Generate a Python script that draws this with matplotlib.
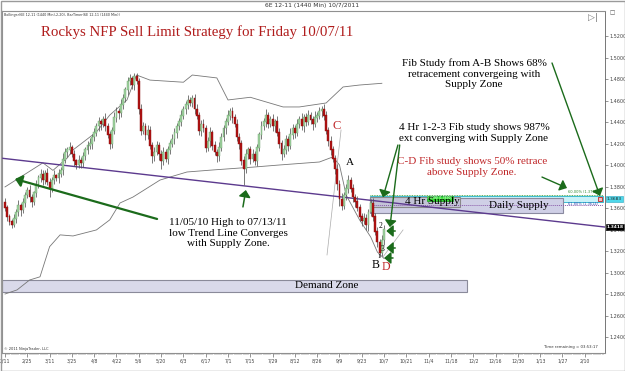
import matplotlib
matplotlib.use("Agg")
import matplotlib.pyplot as plt
from matplotlib.patches import Rectangle
import numpy as np

# ---------------- data ----------------
first_open = 1.365
closes = [
 1.360,1.352,1.347,1.344,1.350,1.356,1.362,1.358,1.365,1.372,
 1.376,1.370,1.366,1.374,1.382,1.388,1.391,1.386,1.392,1.384,
 1.378,1.386,1.390,1.388,1.392,1.395,1.405,1.412,1.414,1.416,
 1.410,1.404,1.400,1.404,1.402,1.408,1.414,1.418,1.420,1.426,
 1.430,1.436,1.440,1.438,1.442,1.436,1.428,1.420,1.432,1.444,
 1.450,1.448,1.456,1.462,1.470,1.478,1.480,1.474,1.482,1.478,
 1.452,1.432,1.436,1.428,1.432,1.418,1.408,1.412,1.418,1.410,
 1.404,1.412,1.406,1.414,1.420,1.424,1.430,1.436,1.440,1.446,
 1.452,1.456,1.460,1.458,1.462,1.452,1.446,1.432,1.438,1.434,
 1.416,1.422,1.430,1.418,1.412,1.408,1.416,1.426,1.434,1.440,
 1.446,1.450,1.444,1.438,1.426,1.420,1.404,1.396,1.410,1.414,
 1.406,1.410,1.404,1.416,1.428,1.436,1.440,1.446,1.438,1.442,
 1.436,1.440,1.430,1.420,1.410,1.414,1.424,1.418,1.428,1.434,
 1.430,1.438,1.442,1.436,1.444,1.440,1.446,1.442,1.438,1.444,
 1.446,1.450,1.452,1.446,1.432,1.422,1.414,1.406,1.396,1.382,
 1.368,1.362,1.372,1.378,1.386,1.378,1.370,1.366,1.360,1.352,
 1.348,1.350,1.344,1.356,1.364,1.352,1.338,1.328,1.318,1.330,
 1.340]
wick_up = [
 4,3,2,3,4,3,5,3,4,3, 4,5,3,2,4,3,5,4,3,5, 4,3,5,2,4,3,6,4,3,5,
 3,4,2,5,3,4,3,4,5,3, 4,3,5,3,4,6,3,4,3,5, 4,3,5,4,3,4,5,3,4,4,
 3,5,4,3,5,4,3,5,4,3, 4,5,3,4,3,5,4,3,4,5, 3,4,5,3,3,4,5,3,4,5,
 3,4,5,3,4,3,5,4,3,4, 5,3,4,3,5,4,3,4,5,3, 4,5,3,4,3,5,4,6,3,4,
 5,3,6,4,3,5,4,3,6,4, 3,5,4,6,3,4,5,3,4,6, 3,4,3,5,4,3,5,4,3,5,
 4,6,3,4,5,3,4,3,5,4, 3,5,4,3,4,5,3,4,3,5, 4]
wick_dn = [
 3,4,3,3,2,4,3,5,3,4, 3,4,5,3,4,3,4,5,4,3, 8,3,4,3,5,3,4,3,5,4,
 3,5,4,3,5,4,3,4,3,5, 4,3,4,5,3,4,3,5,4,3, 4,5,3,4,3,5,4,3,4,3,
 5,4,3,5,4,3,6,4,3,5, 8,4,3,5,4,3,4,5,3,4, 3,5,4,3,4,5,3,4,5,3,
 4,3,5,4,3,5,4,3,4,5, 3,4,5,3,4,5,4,15,3,4, 5,3,4,5,3,4,3,5,4,3,
 4,5,3,4,5,3,4,5,3,4, 5,3,4,3,5,4,3,4,5,3, 4,3,5,4,3,4,5,3,4,5,
 6,4,3,5,4,3,4,5,3,4, 5,3,4,5,3,4,3,4,4,3, 4]

# Bollinger bands (bar index, price)
upper_x = [0, 17, 21.5, 28, 30.5, 41, 47, 54.7, 59, 65, 80, 84, 95, 100, 110, 124.7, 132, 144, 151.6, 159, 169]
upper_y = [1.3796, 1.402, 1.395, 1.4067, 1.414, 1.4307, 1.4465, 1.4605, 1.4837, 1.479, 1.477, 1.4837,
           1.481, 1.4605, 1.463, 1.454, 1.454, 1.4577, 1.4726, 1.4744, 1.476]
lower_x = [0, 5.4, 11, 15.7, 20, 24.7, 30.5, 41, 47, 51.6, 57.4, 69.5, 81.6, 93.3, 105.4, 111, 123, 141,
           147, 150, 153, 159, 164, 167, 170]
lower_y = [1.280, 1.2838, 1.293, 1.296, 1.324, 1.335, 1.334, 1.3396, 1.349, 1.3647, 1.3702, 1.386,
           1.3935, 1.3954, 1.3972, 1.398, 1.400, 1.4028, 1.4075, 1.400, 1.372, 1.349, 1.333, 1.319, 1.313]

# trend line anchors (bar, price)
trend_x = [-2.24, 269.0]
trend_y = [1.4065, 1.3423]

# zones (price levels)
demand_zone = (1.2819, 1.2930)
daily_supply = (1.3554, 1.3693)
hr4_supply = (1.3610, 1.3703)
cyan_zone = (1.3656, 1.3712)
fib60 = 1.3720
fib618 = 1.3628

y_ticks = [1.24, 1.26, 1.28, 1.30, 1.32, 1.34, 1.36, 1.38, 1.40, 1.42, 1.44, 1.46, 1.48, 1.50, 1.52]
date_labels = ["2/11", "2/25", "3/11", "3/25", "4/8", "4/22", "5/6", "5/20", "6/3", "6/17", "7/1",
               "7/15", "7/29", "8/12", "8/26", "9/9", "9/23", "10/7", "10/21", "11/4", "11/18",
               "12/2", "12/16", "12/30", "1/13", "1/27", "2/10"]

# ---------------- figure ----------------
W, H = 625, 371
fig = plt.figure(figsize=(W / 100, H / 100), dpi=100)
fig.patch.set_facecolor("white")
ax = fig.add_axes([2 / W, 1 - 353 / H, 603 / W, 342 / H])
ax.set_xlim(-1.345, 269.06)
ax.set_ylim(1.22512, 1.54326)

serif = ["Liberation Serif", "DejaVu Serif"]

n = len(closes)
idx = np.arange(n)
c = np.array(closes)
o = np.concatenate([[first_open], c[:-1]])
top = np.maximum(o, c)
bot = np.minimum(o, c)
hi = top + np.array(wick_up) / 1000.0
lo = bot - np.array(wick_dn) / 1000.0
up = c >= o

# zones
ax.add_patch(Rectangle((-1.345, demand_zone[0]), 208.5, demand_zone[1] - demand_zone[0],
                       facecolor="#d9d9ea", edgecolor="#8a8a9a", lw=0.8, zorder=1))
ax.add_patch(Rectangle((163.7, cyan_zone[0]), 104.3, cyan_zone[1] - cyan_zone[0],
                       facecolor="#c9f2f8", edgecolor="#3cbcd0", lw=0.7, zorder=1))
ax.add_patch(Rectangle((163.7, daily_supply[0]), 86.5, daily_supply[1] - daily_supply[0],
                       facecolor="#cfcfe6", edgecolor="#8a8aa0", lw=0.8, zorder=1.2))
ax.add_patch(Rectangle((163.7, hr4_supply[0]), 40.3, hr4_supply[1] - hr4_supply[0],
                       facecolor="#c4c4d8", edgecolor="#8a8a8a", lw=0.8, zorder=1.3))
ax.add_patch(Rectangle((189.2, 1.3668), 11.7, 0.0044, facecolor="#33dd33", edgecolor="#1a9a1a",
                       lw=0.5, zorder=1.4))
ax.text(195, 1.3690, "1.3690 (1.3690)", fontsize=2.2, color="white", ha="center", va="center", zorder=1.5)

ax.plot([163.7, 268], [fib60, fib60], color="#2e9a2e", lw=0.6, ls=(0, (1, 1)), zorder=1.6)
ax.plot([163.7, 268], [fib618, fib618], color="#8a5aaa", lw=0.7, ls=(0, (1, 1)), zorder=1.6)
ax.text(266, fib60 + 0.0025, "60.00% (1.3717)", fontsize=2.6, color="#2e8a2e", ha="right", va="center")
ax.text(266, fib618 + 0.0010, "61.80% (1.3614)", fontsize=2.6, color="#3a4ab0", ha="right", va="center")
ax.plot([267], [1.3683], marker="s", ms=3, mfc="#f0c0c0", mec="#c02020", mew=0.6, zorder=5)

# bollinger bands
ax.plot(upper_x, upper_y, color="#777777", lw=0.6, zorder=2)
ax.plot(lower_x, lower_y, color="#777777", lw=0.6, zorder=2)

# thin fib lines
ax.plot([150.7, 144.4], [1.4326, 1.3163], color="#aaaaaa", lw=0.5, zorder=2)
ax.plot([178.5, 169.5], [1.3396, 1.3145], color="#aaaaaa", lw=0.5, zorder=2)

# trend line
ax.plot(trend_x, trend_y, color="#5c3a8e", lw=1.0, zorder=3)

# candles
ax.vlines(idx, lo, hi, color="#555555", lw=0.55, zorder=4)
ax.bar(idx[up], (top - bot)[up] + 0.0005, bottom=bot[up], width=0.85, color="#9fd49f",
       edgecolor="#6f9f6f", lw=0.3, zorder=5)
ax.bar(idx[~up], (top - bot)[~up] + 0.0005, bottom=bot[~up], width=0.85, color="#b01212",
       edgecolor="#8a0e0e", lw=0.3, zorder=5)

# texts
fs = 8.0
ax.text(86.3, 1.5237, "Rockys NFP Sell Limit Strategy for Friday 10/07/11", fontsize=10.7,
        color="#b01c1c", family=serif, ha="center", va="center")
ax.text(210.3, 1.4847, "Fib Study from A-B Shows 68%\nretracement convergeing with\nSupply Zone",
        fontsize=fs, family=serif, ha="center", va="center", linespacing=1.2)
ax.text(210.3, 1.4298, "4 Hr 1-2-3 Fib study shows 987%\next converging with Supply Zone",
        fontsize=fs, family=serif, ha="center", va="center", linespacing=1.2)
ax.text(209.4, 1.3981, "C-D Fib study shows 50% retrace\nabove Supply Zone.", fontsize=fs,
        family=serif, color="#c0282a", ha="center", va="center", linespacing=1.2)
ax.text(100, 1.3367, "11/05/10 High to 07/13/11\nlow Trend Line Converges\nwith Supply Zone.",
        fontsize=fs, family=serif, ha="center", va="center", linespacing=1.2)
ax.text(191.5, 1.3660, "4 Hr Supply", fontsize=8, family=serif, ha="center", va="center", zorder=6)
ax.text(230.5, 1.3619, "Daily Supply", fontsize=8, family=serif, ha="center", va="center", zorder=6)
ax.text(144.4, 1.2875, "Demand Zone", fontsize=8, family=serif, ha="center", va="center", zorder=6)
ax.text(148.9, 1.4363, "C", fontsize=9, family=serif, color="#c0282a", ha="center", va="center")
ax.text(154.7, 1.4019, "A", fontsize=8, family=serif, ha="center", va="center")
ax.text(166.4, 1.3070, "B", fontsize=8.5, family=serif, ha="center", va="center")
ax.text(170.9, 1.3051, "D", fontsize=8.5, family=serif, color="#c0282a", ha="center", va="center")
ax.text(168.2, 1.3433, "2", fontsize=5.5, family=serif, ha="center", va="center", zorder=7)
ax.text(169.5, 1.3220, "3", fontsize=5.5, family=serif, ha="center", va="center", zorder=7)
ax.text(167.7, 1.3145, "1", fontsize=4.5, family=serif, ha="center", va="center", zorder=7)

# arrows
green = "#1b6b1b"
def arrow(x0, y0, x1, y1, lw=1.3, hw=3.5, hl=4):
    ax.annotate("", xy=(x1, y1), xytext=(x0, y0),
                arrowprops=dict(arrowstyle=f"-|>,head_width={hw/10:.2f},head_length={hl/10:.2f}",
                                color=green, lw=lw, shrinkA=0, shrinkB=0), zorder=8)

arrow(68.2, 1.3498, 4.5, 1.3870, lw=1.6)
arrow(106.7, 1.3610, 108.0, 1.3767, lw=1.1)
arrow(176.2, 1.4186, 169.5, 1.3700, lw=1.0)
arrow(177.0, 1.4186, 172.6, 1.3423, lw=1.0)
arrow(245.3, 1.4949, 266.8, 1.3712, lw=1.0)
arrow(240.8, 1.3888, 252.0, 1.3786, lw=1.0)
arrow(175.0, 1.3386, 171.0, 1.3386, lw=1.1)
arrow(175.0, 1.3228, 171.0, 1.3228, lw=1.1)
arrow(174.0, 1.3135, 170.0, 1.3135, lw=1.1)

# axes styling
for s in ["left", "top", "bottom"]:
    ax.spines[s].set_color("#909090")
    ax.spines[s].set_linewidth(0.8)
ax.spines["right"].set_color("#606060")
ax.spines["right"].set_linewidth(0.6)
ax.yaxis.tick_right()
ax.set_yticks(y_ticks)
ax.set_yticklabels([f"{v:.4f}" for v in y_ticks])
ax.tick_params(axis="y", labelsize=3.5, length=2, width=0.4, pad=1, colors="#444444")
ax.set_xticks(np.arange(0, 10 * len(date_labels), 10))
ax.set_xticklabels(date_labels)
ax.set_xticks(np.arange(0, 269, 1), minor=True)
ax.tick_params(axis="x", which="major", labelsize=3.3, length=3, width=0.4, pad=1, colors="#444444")
ax.tick_params(axis="x", which="minor", length=1.5, width=0.3, colors="#555555")

# price labels on the right axis
ax.text(1.003, (1.3684 - 1.22512) / (1.54326 - 1.22512), "1.3683", transform=ax.transAxes,
        fontsize=3.2, ha="left", va="center", color="#222222",
        bbox=dict(boxstyle="square,pad=0.15", fc="#4fd8ea", ec="#2aa8c0", lw=0.4), clip_on=False)
ax.text(1.003, (1.3423 - 1.22512) / (1.54326 - 1.22512), "1.3418", transform=ax.transAxes,
        fontsize=3.2, ha="left", va="center", color="white", weight="bold",
        bbox=dict(boxstyle="square,pad=0.15", fc="black", ec="black", lw=0.4), clip_on=False)

# chrome texts
fig.text(312 / W, 1 - 5 / H, "6E 12-11 (1440 Min) 10/7/2011", fontsize=4.3, ha="center", va="center",
         color="#333333")
fig.text(4 / W, 1 - 15 / H, "Bollinger(6E 12-11 (1440 Min),2,20), BarTimer(6E 12-11 (1440 Min))",
         fontsize=2.4, ha="left", va="center", color="#333333")
fig.text(593 / W, 1 - 17 / H, "▷|", fontsize=6.5, ha="center", va="center", color="#777777")
fig.text(612 / W, 1 - 13 / H, "□", fontsize=4, ha="center", va="center", color="#555555")
fig.text(4 / W, 1 - 349 / H, "© 2011 NinjaTrader, LLC", fontsize=2.6, ha="left", va="center", color="#333333")
fig.text(598 / W, 1 - 347 / H, "Time remaining = 03:53:17", fontsize=2.8, ha="right", va="center",
         color="#333333")

# outer frame
fig.add_artist(Rectangle((0.5 / W, 0.5 / H), 1 - 1 / W, 1 - 1 / H, transform=fig.transFigure,
                         fill=False, ec="#9a9a9a", lw=1.0))

fig.savefig("out.png", dpi=100)
